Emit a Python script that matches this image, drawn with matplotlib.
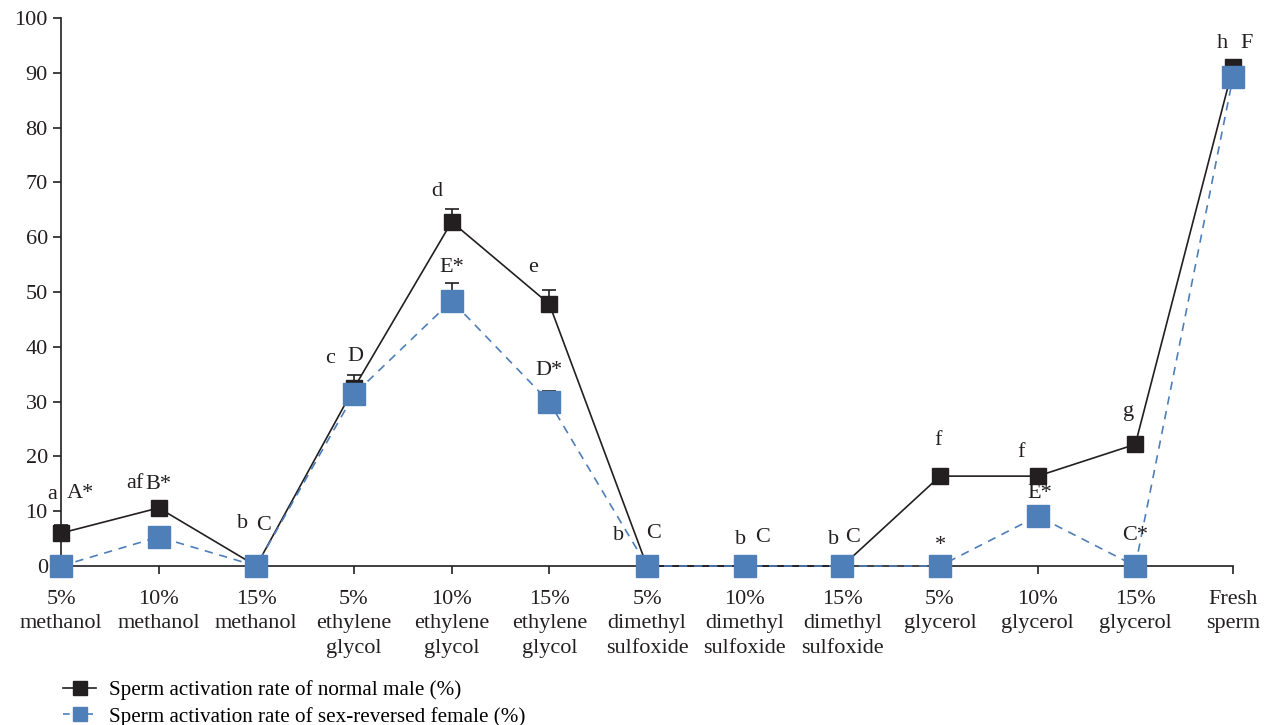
import matplotlib
matplotlib.use("Agg")
import matplotlib.pyplot as plt
from matplotlib.lines import Line2D
import numpy as np

categories = ["5%\nmethanol", "10%\nmethanol", "15%\nmethanol",
              "5%\nethylene\nglycol", "10%\nethylene\nglycol", "15%\nethylene\nglycol",
              "5%\ndimethyl\nsulfoxide", "10%\ndimethyl\nsulfoxide", "15%\ndimethyl\nsulfoxide",
              "5%\nglycerol", "10%\nglycerol", "15%\nglycerol", "Fresh\nsperm"]

male = [6.0, 10.6, 0.0, 32.5, 62.8, 47.8, 0.0, 0.0, 0.0, 16.4, 16.4, 22.2, 91.0]
male_err = [1.5, 0.0, 0.0, 2.3, 2.4, 2.5, 0.0, 0.0, 0.0, 0.0, 0.0, 1.3, 0.4]
female = [0.0, 5.3, 0.0, 31.3, 48.4, 29.9, 0.0, 0.0, 0.0, 0.0, 9.1, 0.0, 89.2]
female_err = [0.0, 0.0, 0.0, 0.0, 3.3, 2.1, 0.0, 0.0, 0.0, 0.0, 0.0, 0.0, 0.0]

male_letters = ["a", "af", "b", "c", "d", "e", "b", "b", "b", "f", "f", "g", "h"]
female_letters = ["A*", "B*", "C", "D", "E*", "D*", "C", "C", "C", "*", "E*", "C*", "F"]

male_label = "Sperm activation rate of normal male (%)"
female_label = "Sperm activation rate of sex-reversed female (%)"

# label offsets in pixels from each point
male_off = [(-9, 39), (-24, 24), (-14, 42), (-24, 29), (-15, 30), (-16, 37), (-28, 31),
            (-4, 26), (-9, 26), (-2, 36), (-17, 24), (-7, 33), (-11, 24)]
female_off = [(19, 72), (0, 52), (7, 40), (1, 38), (0, 33), (0, 32), (7, 33),
              (18, 29), (10, 29), (0, 20), (2, 23), (0, 31), (14, 34)]

BLACK = "#231f20"
BLUE = "#4f7fb8"
FS = 16

plt.rcParams["font.family"] = ["Liberation Serif", "DejaVu Serif"]
plt.rcParams["font.size"] = FS

fig = plt.figure(figsize=(12.69, 7.25), dpi=100)
ax = fig.add_axes([61 / 1269, 1 - 566 / 725, (1233 - 61) / 1269, (566 - 18) / 725])

x = np.arange(len(categories))
m = ax.errorbar(x, male, yerr=[np.zeros(len(male)), male_err], color=BLACK, lw=1.2,
                marker="s", ms=11.5, mfc=BLACK, mec=BLACK, capsize=5, capthick=1.2,
                elinewidth=1.2, zorder=3)
f = ax.errorbar(x, female, yerr=[np.zeros(len(female)), female_err], color=BLUE, lw=1.2,
                ls=(0, (5, 4)), marker="s", ms=16, mfc=BLUE, mec=BLUE, capsize=5,
                capthick=1.2, elinewidth=1.2, ecolor=BLACK, zorder=4)
for cont in (m, f):
    for art in cont.get_children():
        art.set_clip_on(False)

for i in range(len(categories)):
    ax.annotate(male_letters[i], (x[i], male[i]), xytext=male_off[i],
                textcoords="offset pixels", ha="center", va="center",
                fontsize=FS, color=BLACK, zorder=6)
    ax.annotate(female_letters[i], (x[i], female[i]), xytext=female_off[i],
                textcoords="offset pixels", ha="center", va="center",
                fontsize=FS, color=BLACK, zorder=6)

ax.set_xlim(0, len(categories) - 1)
ax.set_ylim(0, 100)
ax.set_yticks(range(0, 101, 10))
ax.set_xticks(x)
ax.set_xticklabels(categories, linespacing=1.4)
for s in ("top", "right"):
    ax.spines[s].set_visible(False)
for s in ("left", "bottom"):
    ax.spines[s].set_color(BLACK)
    ax.spines[s].set_linewidth(1.2)
ax.tick_params(axis="both", colors=BLACK, labelsize=FS, length=6, width=1.2,
               direction="out")
ax.tick_params(axis="x", pad=11)
for lbl in ax.get_xticklabels() + ax.get_yticklabels():
    lbl.set_color(BLACK)

handles = [Line2D([], [], color=BLACK, lw=1.2, marker="s", ms=10, mfc=BLACK, mec=BLACK),
           Line2D([], [], color=BLUE, lw=1.2, ls=(0, (4, 3)), marker="s", ms=10,
                  mfc=BLUE, mec=BLUE)]
fig.legend(handles, [male_label, female_label], loc="upper left",
           bbox_to_anchor=(55 / 1269, 1 - 672 / 725), frameon=False, fontsize=15.2,
           handlelength=1.55, handletextpad=0.6, labelspacing=0.3, borderaxespad=0)

fig.savefig("out.png", dpi=100)
